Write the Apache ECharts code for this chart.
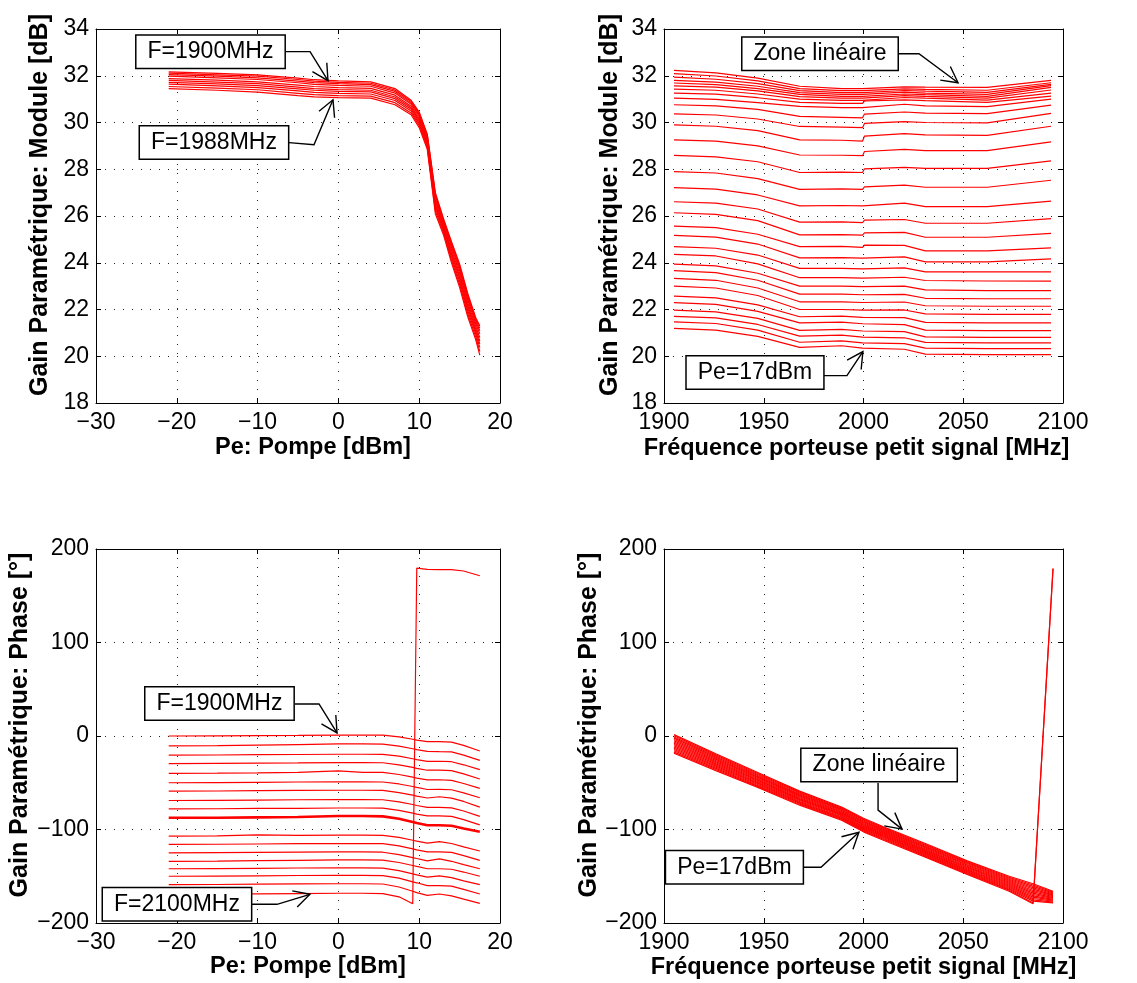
<!DOCTYPE html>
<html>
<head>
<meta charset="utf-8">
<script src="https://cdn.jsdelivr.net/npm/echarts@6/dist/echarts.min.js"></script>
<style>
html,body{margin:0;padding:0;background:#fff;}
#c{width:1137px;height:983px;}
</style>
</head>
<body>
<div id="c"></div>
<script>
// ---------------- DATA ----------------
// Top-left: gain module [dB] vs pump power Pe [dBm], one curve per carrier frequency (1900 .. 1988 MHz)
const tlPe = [-21, -15, -10, -5, -3, 0, 4, 7, 9, 10, 11, 12, 13, 14, 15, 16, 17, 17.5];
const tlFreqs = [1900, 1910, 1920, 1930, 1940, 1950, 1960, 1970, 1980, 1988];
const tlGain = [
  [32.17,32.10,32.04,31.90,31.83,31.78,31.74,31.45,30.95,30.45,29.50,27.00,25.90,24.90,23.95,22.70,21.65,21.30],
  [32.11,32.04,31.98,31.84,31.77,31.72,31.68,31.39,30.90,30.40,29.45,26.93,25.84,24.83,23.87,22.62,21.57,21.20],
  [32.05,31.98,31.91,31.77,31.71,31.66,31.62,31.33,30.84,30.34,29.39,26.85,25.78,24.75,23.78,22.53,21.49,21.09],
  [31.98,31.91,31.84,31.70,31.63,31.59,31.55,31.26,30.78,30.27,29.32,26.76,25.71,24.66,23.68,22.43,21.39,20.96],
  [31.88,31.81,31.74,31.60,31.54,31.49,31.46,31.17,30.70,30.18,29.24,26.64,25.62,24.54,23.55,22.30,21.27,20.80],
  [31.80,31.73,31.66,31.51,31.45,31.41,31.38,31.09,30.63,30.10,29.16,26.53,25.54,24.43,23.43,22.18,21.16,20.65],
  [31.72,31.65,31.58,31.44,31.38,31.33,31.31,31.02,30.57,30.03,29.10,26.44,25.47,24.34,23.33,22.08,21.06,20.53],
  [31.64,31.57,31.49,31.35,31.29,31.25,31.22,30.94,30.49,29.95,29.02,26.33,25.38,24.23,23.21,21.96,20.95,20.38],
  [31.54,31.47,31.40,31.25,31.19,31.15,31.13,30.85,30.41,29.87,28.93,26.22,25.29,24.12,23.08,21.83,20.82,20.21],
  [31.45,31.38,31.30,31.15,31.10,31.06,31.04,30.76,30.33,29.78,28.85,26.10,25.20,24.00,22.95,21.70,20.70,20.05]
];

// Top-right: gain module [dB] vs small-signal carrier frequency [MHz], one curve per pump level
const trFreq = [1905, 1926, 1947, 1968, 1989, 1999.5, 2000.5, 2020.5, 2031, 2062, 2094];
const trGain = [
  [32.23,32.12,31.90,31.55,31.45,31.45,31.47,31.52,31.51,31.50,31.80],
  [32.09,31.99,31.78,31.45,31.36,31.36,31.38,31.44,31.42,31.38,31.70],
  [31.94,31.85,31.66,31.36,31.28,31.28,31.31,31.37,31.34,31.29,31.63],
  [31.80,31.73,31.55,31.28,31.20,31.20,31.24,31.30,31.26,31.20,31.58],
  [31.69,31.62,31.45,31.20,31.12,31.12,31.17,31.22,31.19,31.12,31.50],
  [31.57,31.51,31.35,31.11,31.04,31.04,31.09,31.15,31.12,31.04,31.39],
  [31.43,31.38,31.22,31.00,30.95,30.95,31.02,31.07,31.04,30.96,31.26],
  [31.26,31.21,31.06,30.86,30.82,30.82,30.92,30.97,30.94,30.86,31.13],
  [31.04,30.99,30.85,30.69,30.64,30.64,30.72,30.78,30.71,30.68,31.00],
  [30.76,30.71,30.56,30.26,30.22,30.20,30.36,30.45,30.40,30.38,30.74],
  [30.37,30.32,30.15,29.83,29.80,29.78,29.96,30.04,30.00,29.98,30.39],
  [29.90,29.84,29.65,29.26,29.24,29.20,29.42,29.52,29.47,29.45,29.84],
  [29.26,29.20,29.00,28.61,28.60,28.58,28.76,28.85,28.80,28.80,29.17],
  [28.59,28.53,28.32,27.86,27.88,27.86,28.02,28.08,28.04,28.04,28.36],
  [27.90,27.84,27.60,27.14,27.16,27.14,27.25,27.32,27.23,27.23,27.53],
  [27.21,27.15,26.90,26.43,26.45,26.43,26.50,26.55,26.40,26.40,26.64],
  [26.61,26.55,26.30,25.74,25.75,25.72,25.82,25.85,25.69,25.69,25.89],
  [26.14,26.07,25.80,25.19,25.20,25.18,25.28,25.30,25.09,25.09,25.26],
  [25.57,25.50,25.22,24.69,24.70,24.66,24.75,24.74,24.51,24.51,24.64],
  [25.17,25.10,24.80,24.21,24.22,24.20,24.27,24.25,24.04,24.04,24.17],
  [24.69,24.62,24.33,23.76,23.76,23.74,23.80,23.78,23.61,23.61,23.61],
  [24.36,24.29,23.95,23.36,23.36,23.34,23.40,23.38,23.24,23.22,23.21],
  [23.94,23.87,23.55,23.00,23.00,22.98,23.03,23.00,22.84,22.81,22.81],
  [23.66,23.58,23.25,22.66,22.66,22.63,22.68,22.65,22.48,22.46,22.46],
  [23.33,23.25,22.92,22.33,22.33,22.30,22.35,22.32,22.16,22.14,22.14],
  [23.00,22.92,22.60,22.00,22.00,21.97,22.02,21.98,21.81,21.79,21.79],
  [22.57,22.50,22.20,21.69,21.72,21.66,21.71,21.65,21.45,21.43,21.43],
  [22.29,22.22,21.92,21.43,21.46,21.39,21.44,21.35,21.12,21.10,21.10],
  [21.97,21.90,21.62,21.11,21.15,21.08,21.13,21.05,20.83,20.81,20.81],
  [21.71,21.64,21.36,20.86,20.90,20.82,20.87,20.79,20.59,20.57,20.57],
  [21.47,21.40,21.12,20.60,20.66,20.57,20.62,20.54,20.35,20.33,20.33],
  [21.19,21.12,20.85,20.38,20.45,20.35,20.40,20.30,20.09,20.07,20.07]
];

// Bottom-left: phase [deg] vs pump power Pe [dBm], one curve per frequency (1900 .. 2100 MHz)
const blPe = [-21, -15, -10, -5, 0, 3, 5.5, 7.5, 9.2, 9.7, 11, 12.5, 14, 15.5, 17.5];
const blPhase = [
  [0,0.2,0.5,0.7,1.0,1.0,1.0,-1.0,-3.5,-4.5,-6.0,-6.0,-6.5,-10.0,-16.0],
  [-10.5,-10.3,-9.8,-9.2,-8.5,-8.5,-8.6,-10.8,-13.6,-14.6,-16.5,-16.8,-17.0,-20.5,-26.0],
  [-20.5,-20.3,-20.0,-19.8,-19.5,-19.5,-19.6,-21.6,-24.3,-25.2,-27.2,-27.0,-27.5,-30.8,-36.0],
  [-29.5,-29.3,-29.0,-28.8,-28.5,-28.5,-28.6,-30.8,-33.6,-34.6,-36.6,-36.6,-37.0,-40.5,-46.0],
  [-40.0,-39.8,-39.4,-38.8,-37.2,-38.8,-39.0,-41.2,-44.0,-45.0,-47.0,-46.8,-47.5,-50.8,-56.0],
  [-50.0,-49.8,-49.5,-49.2,-49.0,-49.0,-49.2,-51.3,-54.0,-55.0,-57.2,-57.0,-57.5,-60.8,-66.0],
  [-59.0,-58.8,-58.5,-58.2,-58.0,-58.0,-58.2,-60.5,-63.3,-64.3,-66.3,-65.0,-66.5,-70.0,-76.0],
  [-69.0,-68.8,-68.5,-68.2,-68.0,-68.0,-68.2,-70.5,-73.3,-74.3,-76.3,-76.3,-76.8,-80.2,-86.0],
  [-78.0,-77.8,-77.5,-77.3,-77.0,-77.0,-77.2,-79.5,-82.5,-83.5,-85.5,-85.5,-86.0,-89.5,-95.0],
  [-87.5,-87.4,-87.0,-86.6,-85.6,-85.6,-86.0,-88.5,-92.0,-93.0,-95.5,-95.5,-96.0,-99.0,-102.5],
  [-107.0,-106.8,-105.8,-106.2,-106.0,-106.0,-106.2,-108.5,-111.5,-112.5,-114.5,-113.0,-115.0,-118.5,-123.0],
  [-116.0,-115.8,-115.5,-115.2,-115.0,-115.0,-115.2,-117.5,-120.8,-121.8,-124.0,-124.0,-124.5,-128.0,-133.0],
  [-125.0,-124.8,-124.5,-124.2,-124.0,-124.0,-124.3,-126.8,-130.0,-131.0,-133.5,-131.5,-134.0,-137.5,-142.0],
  [-134.0,-133.8,-133.3,-133.0,-132.5,-132.5,-132.8,-135.3,-138.5,-139.5,-142.0,-142.0,-142.5,-145.5,-150.0],
  [-142.0,-141.8,-141.5,-141.2,-141.0,-141.0,-141.3,-144.0,-147.5,-148.5,-151.0,-149.5,-151.5,-155.0,-159.0],
  [-150.0,-149.8,-149.5,-149.2,-149.0,-149.0,-149.3,-152.0,-156.0,-157.0,-160.0,-160.0,-160.5,-164.0,-169.0],
  [-159.0,-158.8,-158.5,-158.2,-158.0,-158.0,-158.3,-161.5,-166.0,-167.5,-170.5,-169.0,-171.0,-174.5,-179.0],
  [-169.0,-169.0,-168.8,-168.5,-168.2,-168.2,-168.5,-172.0,-179.5,179.6,178.2,178.0,178.0,176.5,171.4]
];
const blThickCurve = 9;

// Bottom-right: phase [deg] vs small-signal carrier frequency [MHz], one curve per pump level
const brFreq = [1905, 1926, 1947, 1968, 1989, 2000, 2010, 2031, 2052, 2073, 2085, 2095];
const brPhase = [
  [1.5,-19.0,-39.0,-59.0,-76.0,-88.0,-97.0,-115.0,-133.5,-150.0,-158.0,-166.0],
  [0.3,-20.2,-40.1,-60.0,-76.9,-89.0,-98.0,-116.0,-134.5,-151.1,-159.4,-167.0],
  [-1.0,-21.4,-41.1,-61.0,-77.9,-89.9,-98.9,-116.9,-135.4,-152.1,-160.9,-167.9],
  [-2.3,-22.6,-42.2,-62.0,-78.8,-90.9,-99.9,-117.9,-136.4,-153.2,-162.3,-168.9],
  [-3.7,-23.8,-43.3,-63.0,-79.7,-91.9,-100.9,-118.9,-137.4,-154.3,-163.7,-169.9],
  [-5.0,-25.0,-44.3,-64.0,-80.7,-92.8,-101.8,-119.8,-138.3,-155.3,-165.2,-170.8],
  [-6.4,-26.2,-45.4,-65.0,-81.6,-93.8,-102.8,-120.8,-139.3,-156.4,-166.6,-171.8],
  [-7.7,-27.4,-46.5,-66.0,-82.5,-94.8,-103.8,-121.8,-140.3,-157.5,-168.0,-172.8],
  [-9.1,-28.6,-47.5,-67.0,-83.5,-95.7,-104.7,-122.7,-141.2,-158.5,-169.5,-173.7],
  [-10.4,-29.8,-48.6,-68.0,-84.4,-96.7,-105.7,-123.7,-142.2,-159.6,-170.9,-174.7],
  [-11.8,-31.0,-49.7,-69.0,-85.3,-97.7,-106.7,-124.7,-143.2,-160.7,-172.3,-175.6],
  [-13.1,-32.2,-50.7,-70.0,-86.3,-98.6,-107.6,-125.6,-144.1,-161.7,-173.8,-176.6],
  [-14.5,-33.4,-51.8,-71.0,-87.2,-99.6,-108.6,-126.6,-145.1,-162.8,-175.2,-177.6],
  [-15.8,-34.6,-52.9,-72.0,-88.1,-100.6,-109.6,-127.6,-146.1,-163.9,-176.6,-178.5],
  [-17.2,-35.8,-53.9,-73.0,-89.1,-101.5,-110.5,-128.5,-147.0,-164.9,-178.6,178.6],
  [-18.5,-37.0,-55.0,-74.0,-90.0,-102.5,-111.5,-129.5,-148.0,-166.0,-179.5,179.5]
];

// Tick values
const xTicksPe = [-30, -20, -10, 0, 10, 20];
const xTicksF = [1900, 1950, 2000, 2050, 2100];
const yTicksModule = [18, 20, 22, 24, 26, 28, 30, 32, 34];
const yTicksPhase = [-200, -100, 0, 100, 200];

// Axis titles
const xTitles = ['Pe: Pompe [dBm]', 'Fréquence porteuse petit signal [MHz]', 'Pe: Pompe [dBm]', 'Fréquence porteuse petit signal [MHz]'];
const yTitles = ['Gain Paramétrique: Module [dB]', 'Gain Paramétrique: Module [dB]', 'Gain Paramétrique: Phase [°]', 'Gain Paramétrique: Phase [°]'];

// Annotations (text, panel, box centre in data coords, leader path in data coords: start, elbow, arrow head)
const annText = ['F=1900MHz', 'F=1988MHz', 'Zone linéaire', 'Pe=17dBm', 'F=1900MHz', 'F=2100MHz', 'Zone linéaire', 'Pe=17dBm'];
const annPanel = [0, 0, 1, 1, 2, 2, 3, 3];
const annBox = [[-15.83, 33.03], [-15.40, 29.14], [1978.2, 32.94], [1945.6, 19.30], [-14.72, 34.8], [-19.98, -180], [2007.8, -31.1], [1935.3, -140.4]];
const annPath = [
  [[-6.48, 33.03], [-3.51, 33.03], [-1.29, 31.79]],
  [[-6.11, 29.14], [-3.02, 29.05], [-0.67, 30.97]],
  [[2015.8, 32.94], [2027.8, 32.94], [2047.4, 31.70]],
  [[1979.2, 19.17], [1991.7, 19.17], [1999.7, 20.2]],
  [[-5.37, 34.3], [-2.4, 34.3], [-0.17, 3.3]],
  [[-10.69, -180], [-7.6, -180], [-3.52, -169.3]],
  [[2007.3, -50.4], [2007.3, -79.3], [2019.3, -99.6]],
  [[1966.7, -140.4], [1978.7, -140.4], [1997.7, -102.9]]
];

// ---------------- LAYOUT / STYLE ----------------
const FONT = '"Liberation Sans", Arial, Helvetica, sans-serif';
const RED = '#ff0000';
const gridBoxes = [[96, 29, 404, 374], [664, 29, 399, 374], [96, 549, 404, 374], [664, 549, 399, 374]];
const xNameGap = [33, 34, 28, 33];
const xNamePad = [[0, 0, 0, 30], [0, 14, 0, 0], [0, 0, 0, 20], [0, 0, 0, 0]];
const yNameGap = [43, 41, 63, 61];
const xTicksAll = [xTicksPe, xTicksF, xTicksPe, xTicksF];
const yTicksAll = [yTicksModule, yTicksModule, yTicksPhase, yTicksPhase];
const fmt = v => String(v).replace('-', '\u2212');

const grid = gridBoxes.map(b => ({left: b[0], top: b[1], width: b[2], height: b[3], containLabel: false, outerBoundsMode: 'none', show: false}));
const xAxis = [], yAxis = [];
function axisBase(g, ticks) {
  return {
    type: 'value', gridIndex: g,
    min: ticks[0], max: ticks[ticks.length - 1], interval: ticks[1] - ticks[0],
    axisLine: {show: true, onZero: false, lineStyle: {color: '#000', width: 1}},
    axisTick: {show: true, inside: true, length: 5, lineStyle: {color: '#000', width: 1}},
    minorTick: {show: false}
  };
}
for (let g = 0; g < 4; g++) {
  const xt = xTicksAll[g], yt = yTicksAll[g];
  xAxis.push(Object.assign(axisBase(g, xt), {
    position: 'bottom',
    axisLabel: {show: true, fontSize: 23, color: '#000', fontFamily: FONT, margin: 8, formatter: fmt},
    splitLine: {show: true, lineStyle: {color: '#222', width: 1, type: [1, 8]}},
    name: xTitles[g], nameLocation: 'middle', nameGap: xNameGap[g],
    nameTextStyle: {fontSize: 23.5, fontWeight: 'bold', fontFamily: FONT, color: '#000', padding: xNamePad[g]}
  }));
  xAxis.push(Object.assign(axisBase(g, xt), {position: 'top', axisLabel: {show: false}, splitLine: {show: false}}));
  yAxis.push(Object.assign(axisBase(g, yt), {
    position: 'left',
    axisLabel: {show: true, fontSize: 23, color: '#000', fontFamily: FONT, margin: 7, formatter: fmt},
    splitLine: {show: true, lineStyle: {color: '#222', width: 1, type: [1, 8]}},
    name: yTitles[g], nameLocation: 'middle', nameGap: yNameGap[g],
    nameTextStyle: {fontSize: 25, fontWeight: 'bold', fontFamily: FONT, color: '#000', padding: [0, 0, 0, 22]}
  }));
  yAxis.push(Object.assign(axisBase(g, yt), {position: 'right', axisLabel: {show: false}, splitLine: {show: false}}));
}

const series = [];
function addCurves(g, xs, rows, widthFn) {
  rows.forEach((ys, i) => {
    series.push({
      type: 'line', xAxisIndex: 2 * g, yAxisIndex: 2 * g,
      data: xs.map((x, j) => [x, ys[j]]),
      symbol: 'none', showSymbol: false, silent: true, animation: false,
      clip: true,
      lineStyle: {color: RED, width: widthFn(i)}
    });
  });
}
addCurves(0, tlPe, tlGain, () => 1.2);
addCurves(1, trFreq, trGain, () => 1.2);
addCurves(2, blPe, blPhase, i => i === blThickCurve ? 2.6 : 1.2);
addCurves(3, brFreq, brPhase, () => 1.2);

const chart = echarts.init(document.getElementById('c'), null, {renderer: 'canvas', width: 1137, height: 983});
chart.setOption({
  animation: false,
  backgroundColor: '#fff',
  textStyle: {fontFamily: FONT},
  grid: grid, xAxis: xAxis, yAxis: yAxis, series: series
});

// ---------------- ANNOTATIONS ----------------
const graphics = [];
annText.forEach((t, i) => {
  const g = annPanel[i];
  const finder = {xAxisIndex: 2 * g, yAxisIndex: 2 * g};
  const c = chart.convertToPixel(finder, annBox[i]);
  const pts = annPath[i].map(p => chart.convertToPixel(finder, p));
  const E = pts[1], H = pts[2];
  const dx = H[0] - E[0], dy = H[1] - E[1];
  const len = Math.hypot(dx, dy), ux = dx / len, uy = dy / len;
  const L = 18, th = 28 * Math.PI / 180;
  const wing = a => [H[0] - L * (ux * Math.cos(a) - uy * Math.sin(a)), H[1] - L * (ux * Math.sin(a) + uy * Math.cos(a))];
  graphics.push({type: 'polyline', z: 100, silent: true, shape: {points: pts}, style: {stroke: '#000', lineWidth: 1.4, fill: null}});
  graphics.push({type: 'polyline', z: 100, silent: true, shape: {points: [wing(th), H, wing(-th)]}, style: {stroke: '#000', lineWidth: 1.4, fill: null}});
  graphics.push({
    type: 'text', z: 101, silent: true, x: c[0], y: c[1],
    style: {
      text: t, font: '23px ' + FONT, fill: '#000',
      align: 'center', verticalAlign: 'middle', textAlign: 'center', textVerticalAlign: 'middle',
      backgroundColor: '#fff', borderColor: '#000', borderWidth: 1.5, padding: [5, 11, 4, 11]
    }
  });
});
chart.setOption({graphic: {elements: graphics}});
</script>
</body>
</html>
